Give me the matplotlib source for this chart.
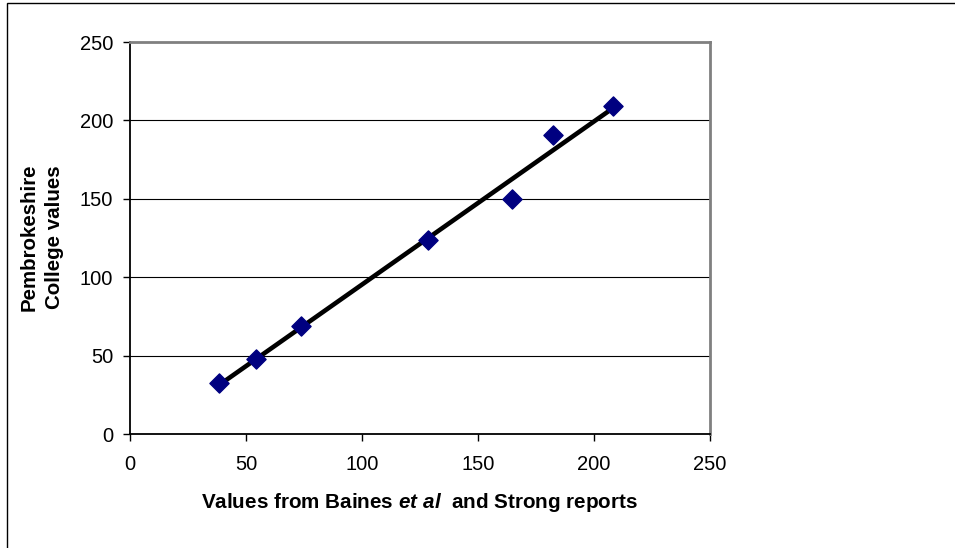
import numpy as np
import matplotlib
matplotlib.use("Agg")
import matplotlib.pyplot as plt
from matplotlib.patches import Rectangle

plt.rcParams['font.family'] = ['Liberation Sans', 'DejaVu Sans']
plt.rcParams['mathtext.fontset'] = 'custom'
plt.rcParams['mathtext.rm'] = 'Liberation Sans:bold'
plt.rcParams['mathtext.bf'] = 'Liberation Sans:bold'
plt.rcParams['mathtext.bfit'] = 'Liberation Sans:italic:bold'
plt.rcParams['mathtext.it'] = 'Liberation Sans:italic:bold'

# Data
baines_strong = [38.5, 54.5, 73.5, 128.5, 164.8, 182.5, 208.0]
pembrokeshire = [32.5, 48.0, 69.0, 124.0, 150.0, 191.0, 209.0]
x_ticks = [0, 50, 100, 150, 200, 250]
y_ticks = [0, 50, 100, 150, 200, 250]

fig = plt.figure(figsize=(9.55, 5.48), dpi=100)
ax = fig.add_axes([130/955, 1-434/548, (710-130)/955, (434-42)/548])

# outer chart border
fig.patches.append(Rectangle((7/955, -0.1), 1.2, 1-3/548+0.1, transform=fig.transFigure,
                             fill=False, edgecolor='black', linewidth=1.0, clip_on=False))

ax.set_xlim(0, 250)
ax.set_ylim(0, 250)
ax.set_xticks(x_ticks)
ax.set_yticks(y_ticks)
ax.tick_params(direction='out', length=5, width=1, labelsize=14.5, colors='black')
ax.tick_params(axis='y', pad=7)
ax.tick_params(axis='x', pad=10)

for y in y_ticks[1:-1]:
    ax.axhline(y, color='black', linewidth=0.8, zorder=1)

ax.spines['left'].set_color('black')
ax.spines['bottom'].set_color('black')
ax.spines['left'].set_linewidth(1.3)
ax.spines['bottom'].set_linewidth(1.3)
ax.spines['top'].set_color('#808080')
ax.spines['right'].set_color('#808080')
ax.spines['top'].set_linewidth(2)
ax.spines['right'].set_linewidth(2)

xs = np.array(baines_strong)
ys = np.array(pembrokeshire)
m, b = np.polyfit(xs, ys, 1)
xl = np.array([xs.min(), xs.max()])
ax.plot(xl, m*xl + b, color='black', linewidth=3.3, zorder=3, solid_capstyle='round')

ax.scatter(xs, ys, marker='D', s=95, color='#000080', edgecolor='#000080', zorder=4)

fig.text(420/955, 1-502/548, r'Values from Baines $\bfit{et\ al}$  and Strong reports',
         ha='center', va='center', fontsize=14.9, fontweight='bold')
fig.text(42/955, 1-237/548, 'Pembrokeshire\nCollege values', rotation=90,
         ha='center', va='center', fontsize=14.8, fontweight='bold', linespacing=1.4)

fig.savefig('out.png', dpi=100)
